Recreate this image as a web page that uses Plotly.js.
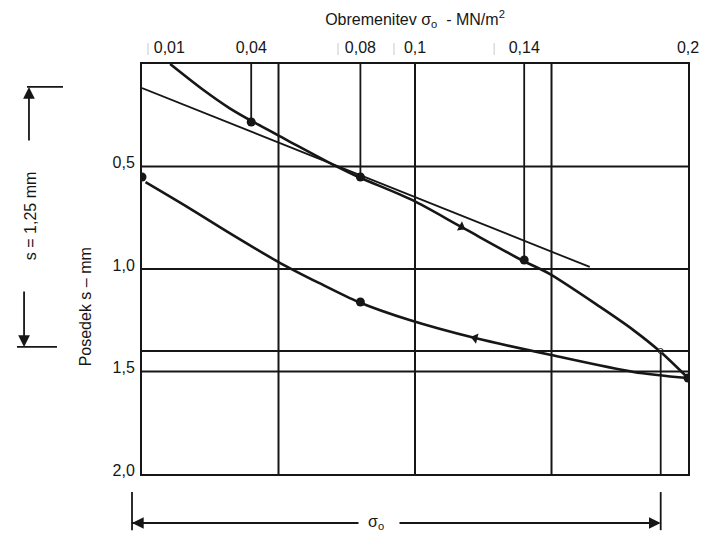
<!DOCTYPE html>
<html>
<head>
<meta charset="utf-8">
<script src="https://cdn.plot.ly/plotly-3.0.1.min.js"></script>
<style>html,body{margin:0;padding:0;background:#fff;}#chart{width:709px;height:535px;}</style>
</head>
<body>
<div id="chart"></div>
<script>
// ---- data ----
const sigmaTicks = [0.01, 0.04, 0.08, 0.1, 0.14, 0.2];
const sigmaTickText = ['0,01', '0,04', '0,08', '0,1', '0,14', '0,2'];
const settleTicks = [0.5, 1.0, 1.5, 2.0];
const settleTickText = ['0,5', '1,0', '1,5', '2,0'];

// loading curve (obremenjevanje)
const loadX = [0.0103, 0.0225, 0.032, 0.0408, 0.0531, 0.0703, 0.0793, 0.0989, 0.117, 0.139, 0.1493, 0.1678, 0.180, 0.190, 0.200];
const loadY = [0.000, 0.127, 0.215, 0.283, 0.371, 0.493, 0.551, 0.663, 0.795, 0.956, 1.024, 1.185, 1.298, 1.405, 1.532];
// measured load points
const loadPtsX = [0.04, 0.08, 0.14, 0.2];
const loadPtsY = [0.283, 0.551, 0.956, 1.532];

// unloading curve (razbremenjevanje)
const unloadX = [0.200, 0.180, 0.150, 0.122, 0.098, 0.0793, 0.0648, 0.050, 0.0315, 0.0167, 0.0013];
const unloadY = [1.532, 1.502, 1.420, 1.337, 1.249, 1.161, 1.068, 0.966, 0.820, 0.698, 0.576];
const unloadPtsX = [0.08, 0.0];
const unloadPtsY = [1.161, 0.551];

// tangent to the initial loading branch
const tangentX = [0.0, 0.164];
const tangentY = [0.117, 0.990];

// grid lines and reference lines
const gridSigma = [0.05, 0.1, 0.15];
const gridSettle = [0.5, 1.0, 1.5];
const limitSettle = 1.40;     // horizontal reference line
const limitSigma = 0.19;      // sigma_o at the reference line
const sRangeTop = 0.112;      // s = 1,25 mm dimension
const sRangeBottom = 1.38;
const loadArrow = {x: 0.117, y: 0.795};
const unloadArrow = {x: 0.122, y: 1.337};
const faintMarks = [0.0022, 0.0718, 0.0923, 0.129];

// ---- build ----
const INK = '#161616';
const FONT = 'Liberation Sans, Arial, sans-serif';

const dropX = [], dropY = [];
for (let i = 0; i < loadPtsX.length - 1; i++) {
  dropX.push(loadPtsX[i], loadPtsX[i], null);
  dropY.push(0, loadPtsY[i], null);
}

const traces = [
  {x: dropX, y: dropY, mode: 'lines', line: {color: INK, width: 1.8}, hoverinfo: 'skip'},
  {x: tangentX, y: tangentY, mode: 'lines', line: {color: INK, width: 1.8}},
  {x: loadX, y: loadY, mode: 'lines', line: {color: INK, width: 2.6, shape: 'spline', smoothing: 0.8}},
  {x: unloadX, y: unloadY, mode: 'lines', line: {color: INK, width: 2.6, shape: 'spline', smoothing: 0.8}},
  {x: loadPtsX, y: loadPtsY, mode: 'markers', marker: {color: INK, size: 9}},
  {x: unloadPtsX, y: unloadPtsY, mode: 'markers', marker: {color: INK, size: 9}},
  {x: [loadArrow.x], y: [loadArrow.y], mode: 'markers', marker: {color: INK, size: 9, symbol: 'triangle-right', angle: 29}},
  {x: [unloadArrow.x], y: [unloadArrow.y], mode: 'markers', marker: {color: INK, size: 9, symbol: 'triangle-left', angle: 14}},
  {x: [limitSigma], y: [limitSettle], mode: 'markers', marker: {color: '#fff', size: 5, line: {color: INK, width: 1}}}
];

const shapes = [];
gridSigma.forEach(v => shapes.push({type: 'line', xref: 'x', yref: 'paper', x0: v, x1: v, y0: 0, y1: 1, line: {color: INK, width: 2}}));
gridSettle.forEach(v => shapes.push({type: 'line', xref: 'paper', yref: 'y', x0: 0, x1: 1, y0: v, y1: v, line: {color: INK, width: 2}}));
shapes.push({type: 'line', xref: 'paper', yref: 'y', x0: 0, x1: 1, y0: limitSettle, y1: limitSettle, line: {color: INK, width: 2}});
shapes.push({type: 'line', xref: 'x', yref: 'y', x0: limitSigma, x1: limitSigma, y0: limitSettle, y1: 2.0, line: {color: INK, width: 1.8}});
// bottom dimension ticks
shapes.push({type: 'line', xref: 'paper', yref: 'paper', x0: -0.0183, x1: -0.0183, y0: -0.044, y1: -0.137, line: {color: INK, width: 1.8}});
shapes.push({type: 'line', xref: 'x', yref: 'paper', x0: limitSigma, x1: limitSigma, y0: -0.044, y1: -0.137, line: {color: INK, width: 1.8}});
shapes.push({type: 'line', xref: 'paper', yref: 'paper', x0: -0.0183, x1: 0.3965, y0: -0.1195, y1: -0.1195, line: {color: INK, width: 1.8}});
shapes.push({type: 'line', xref: 'paper', yref: 'paper', x0: 0.4716, x1: 0.9414, y0: -0.1195, y1: -0.1195, line: {color: INK, width: 1.8}});
// left dimension ticks
shapes.push({type: 'line', xref: 'paper', yref: 'y', x0: -0.2106, x1: -0.1447, y0: sRangeTop, y1: sRangeTop, line: {color: INK, width: 1.8}});
shapes.push({type: 'line', xref: 'paper', yref: 'y', x0: -0.229, x1: -0.1557, y0: sRangeBottom, y1: sRangeBottom, line: {color: INK, width: 1.8}});
// faint separator marks in the top label row
faintMarks.forEach(v => shapes.push({type: 'line', xref: 'x', yref: 'paper', x0: v, x1: v, y0: 1.022, y1: 1.051, line: {color: '#c8c8c8', width: 1}}));

const annotations = [
  {xref: 'paper', yref: 'paper', x: -0.104, y: 0.407, xanchor: 'center', yanchor: 'middle', text: 'Posedek s – mm', textangle: -90, showarrow: false, font: {family: FONT, size: 16, color: INK}},
  {xref: 'paper', yref: 'paper', x: -0.205, y: 0.629, xanchor: 'center', yanchor: 'middle', text: 's = 1,25 mm', textangle: -90, showarrow: false, font: {family: FONT, size: 16, color: INK}},
  {xref: 'paper', yref: 'paper', x: 0.4286, y: -0.1195, xanchor: 'center', yanchor: 'middle', text: 'σ<sub>o</sub>', showarrow: false, font: {family: FONT, size: 16, color: INK}},
  // dimension arrows
  {xref: 'paper', yref: 'y', x: -0.207, y: sRangeTop, ax: 0, ay: 55, text: '', showarrow: true, arrowhead: 2, arrowsize: 1.3, arrowwidth: 1.8, arrowcolor: INK},
  {xref: 'paper', yref: 'y', x: -0.216, y: sRangeBottom, ax: 0, ay: -57, text: '', showarrow: true, arrowhead: 2, arrowsize: 1.3, arrowwidth: 1.8, arrowcolor: INK},
  {xref: 'paper', yref: 'paper', x: -0.0183, y: -0.1195, ax: 30, ay: 0, text: '', showarrow: true, arrowhead: 2, arrowsize: 1.3, arrowwidth: 1.8, arrowcolor: INK},
  {xref: 'x', yref: 'paper', x: limitSigma, y: -0.1195, ax: -30, ay: 0, text: '', showarrow: true, arrowhead: 2, arrowsize: 1.3, arrowwidth: 1.8, arrowcolor: INK}
];

const layout = {
  width: 709, height: 535,
  margin: {l: 142, r: 21, t: 64, b: 61},
  paper_bgcolor: '#fff', plot_bgcolor: '#fff',
  showlegend: false,
  font: {family: FONT, size: 16, color: INK},
  xaxis: {
    side: 'top', range: [0, 0.2], tickvals: sigmaTicks, ticktext: sigmaTickText,
    showgrid: false, zeroline: false, showline: true, mirror: true, linecolor: INK, linewidth: 2,
    ticks: '', ticklabelstandoff: 3, tickfont: {family: FONT, size: 16, color: INK},
    title: {text: 'Obremenitev σ<sub>o</sub>  - MN/m<sup>2</sup>', standoff: 9, font: {family: FONT, size: 16, color: INK}},
    fixedrange: true
  },
  yaxis: {
    range: [2.0, 0], tickvals: settleTicks, ticktext: settleTickText,
    showgrid: false, zeroline: false, showline: true, mirror: true, linecolor: INK, linewidth: 2,
    ticks: '', ticklabelstandoff: 2, ticklabelshift: 4, tickfont: {family: FONT, size: 16, color: INK},
    fixedrange: true
  },
  shapes: shapes,
  annotations: annotations
};

Plotly.newPlot('chart', traces, layout, {displayModeBar: false, staticPlot: true});
</script>
</body>
</html>
